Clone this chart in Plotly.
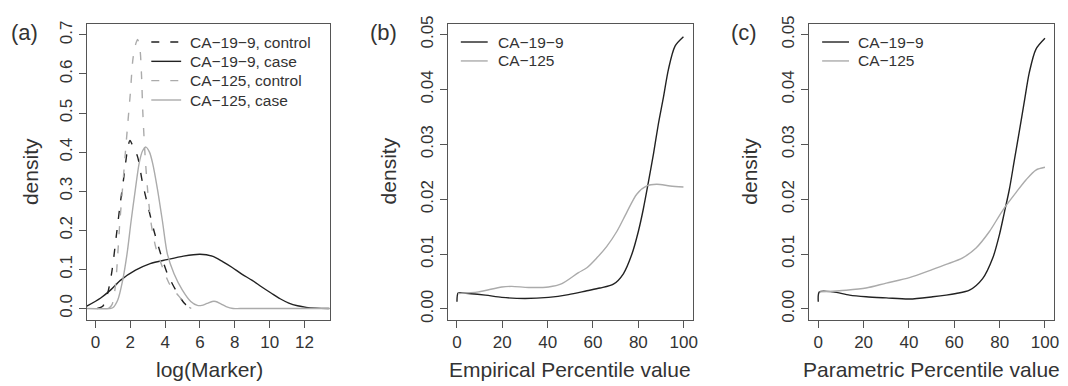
import plotly.graph_objects as go

W, H = 1068, 386

# ---------------- data: panel (a) ----------------
a_ca199_control_x = [0.1, 0.42, 0.7, 0.95, 1.18, 1.41, 1.66, 1.85, 1.98, 2.15, 2.42, 2.7, 3.05, 3.37, 3.75, 4.13, 4.61, 5.09, 5.4]
a_ca199_control_y = [0.0, 0.006, 0.039, 0.097, 0.18, 0.264, 0.347, 0.41, 0.43, 0.415, 0.388, 0.322, 0.255, 0.197, 0.139, 0.089, 0.047, 0.014, 0.002]

a_ca199_case_x = [-0.5, 0.3, 0.86, 1.43, 2.3, 3.14, 4.1, 5.05, 6.0, 6.7, 7.3, 7.85, 8.4, 9.0, 9.55, 10.1, 10.6, 11.1, 11.6, 12.1, 12.7, 13.4]
a_ca199_case_y = [0.006, 0.027, 0.047, 0.072, 0.098, 0.115, 0.125, 0.134, 0.139, 0.134, 0.12, 0.105, 0.088, 0.072, 0.055, 0.039, 0.025, 0.014, 0.007, 0.003, 0.001, 0.0]

a_ca125_control_x = [0.75, 0.95, 1.14, 1.28, 1.4, 1.55, 1.7, 1.85, 2.0, 2.15, 2.3, 2.42, 2.55, 2.64, 2.72, 2.85, 3.0, 3.18, 3.47, 3.85, 4.23, 4.5, 4.8, 5.18, 5.5]
a_ca125_control_y = [0.0, 0.01, 0.056, 0.139, 0.222, 0.305, 0.39, 0.471, 0.55, 0.638, 0.675, 0.688, 0.665, 0.6, 0.5, 0.39, 0.3, 0.222, 0.155, 0.105, 0.064, 0.047, 0.031, 0.01, 0.0]

a_ca125_case_x = [-0.5, 0.8, 0.99, 1.28, 1.56, 1.81, 2.04, 2.29, 2.51, 2.7, 2.9, 3.1, 3.28, 3.56, 3.85, 4.13, 4.51, 4.99, 5.47, 5.85, 6.1, 6.4, 6.7, 6.9, 7.2, 7.5, 7.9, 8.3, 13.5]
a_ca125_case_y = [0.0, 0.0, 0.002, 0.022, 0.072, 0.139, 0.222, 0.305, 0.372, 0.403, 0.413, 0.4, 0.372, 0.305, 0.222, 0.139, 0.089, 0.047, 0.018, 0.008, 0.008, 0.013, 0.018, 0.018, 0.012, 0.005, 0.0, 0.0, 0.0]

a_xticks = [0, 2, 4, 6, 8, 10, 12]
a_yticks = [0.0, 0.1, 0.2, 0.3, 0.4, 0.5, 0.6, 0.7]

# ---------------- data: panel (b) ----------------
b_ca199_x = [0, 0.5, 2.2, 12.5, 19.8, 30, 40.4, 49.2, 57.3, 63.1, 69.0, 73.4, 77.1, 80.0, 82.2, 84.4, 86.7, 88.8, 91.0, 93.3, 96.2, 99.9]
b_ca199_y = [0.0013, 0.0029, 0.0029, 0.0025, 0.0021, 0.0019, 0.0021, 0.0026, 0.0033, 0.0038, 0.0045, 0.0064, 0.0099, 0.0141, 0.0182, 0.023, 0.0283, 0.0336, 0.0384, 0.0437, 0.0479, 0.0496]

b_ca125_x = [0.5, 9.5, 19.8, 24.2, 31.6, 40.4, 46.3, 53.6, 57.3, 61.7, 66.1, 70.5, 74.9, 79.3, 83.7, 88.1, 94.0, 99.9]
b_ca125_y = [0.0028, 0.0031, 0.004, 0.0041, 0.0039, 0.004, 0.0046, 0.0066, 0.0075, 0.0093, 0.0114, 0.0141, 0.0176, 0.0209, 0.0224, 0.0227, 0.0224, 0.0222]

# ---------------- data: panel (c) ----------------
c_ca199_x = [0, 0.5, 6.5, 13.8, 21.1, 30, 40.2, 50.5, 56.4, 60.8, 66.7, 72.5, 77.0, 79.9, 82.1, 84.3, 86.5, 88.7, 90.9, 93.1, 96.0, 100]
c_ca199_y = [0.0013, 0.0031, 0.0031, 0.0025, 0.0022, 0.002, 0.0018, 0.0022, 0.0025, 0.0028, 0.0034, 0.0055, 0.0093, 0.0135, 0.0176, 0.0218, 0.0271, 0.0324, 0.0378, 0.0431, 0.0473, 0.0493]

c_ca125_x = [0.5, 12.3, 21.1, 30, 40.2, 50.5, 56.4, 63.7, 69.6, 75.5, 79.9, 82.8, 87.2, 91.6, 96.0, 100]
c_ca125_y = [0.0031, 0.0034, 0.0038, 0.0047, 0.0057, 0.0072, 0.0081, 0.0093, 0.0111, 0.0141, 0.017, 0.0188, 0.0212, 0.0235, 0.0253, 0.0258]

pct_xticks = [0, 20, 40, 60, 80, 100]
pct_yticks = [0.00, 0.01, 0.02, 0.03, 0.04, 0.05]

legend_a = ["CA\u221219\u22129, control", "CA\u221219\u22129, case", "CA\u2212125, control", "CA\u2212125, case"]
legend_bc = ["CA\u221219\u22129", "CA\u2212125"]

# ---------------- styling ----------------
DARK = '#222222'
GRAY = '#ababab'
AXC = '#555555'
TXT = '#333333'
FONT = 'Liberation Sans, Arial, Helvetica, sans-serif'
DASH = '8px,11px'
LW = 1.4

fig = go.Figure()


def add(x, y, color, dash, xa, ya, name):
    fig.add_trace(go.Scatter(
        x=x, y=y, mode='lines', name=name, showlegend=False, hoverinfo='skip',
        line=dict(color=color, width=LW, dash=dash, shape='spline', smoothing=0.8),
        xaxis=xa, yaxis=ya))


add(a_ca199_control_x, a_ca199_control_y, DARK, DASH, 'x', 'y', legend_a[0])
add(a_ca199_case_x, a_ca199_case_y, DARK, 'solid', 'x', 'y', legend_a[1])
add(a_ca125_control_x, a_ca125_control_y, GRAY, DASH, 'x', 'y', legend_a[2])
add(a_ca125_case_x, a_ca125_case_y, GRAY, 'solid', 'x', 'y', legend_a[3])

add(b_ca199_x, b_ca199_y, DARK, 'solid', 'x2', 'y2', legend_bc[0])
add(b_ca125_x, b_ca125_y, GRAY, 'solid', 'x2', 'y2', legend_bc[1])

add(c_ca199_x, c_ca199_y, DARK, 'solid', 'x3', 'y3', legend_bc[0])
add(c_ca125_x, c_ca125_y, GRAY, 'solid', 'x3', 'y3', legend_bc[1])

ydom = [1 - 321 / H, 1 - 16 / H]
tickfont = dict(family=FONT, size=17, color=TXT)
common = dict(showline=True, mirror=True, linecolor=AXC, linewidth=1,
              ticks='outside', ticklen=7, tickwidth=1, tickcolor=AXC,
              showgrid=False, zeroline=False, tickfont=tickfont, fixedrange=True)

fig.update_layout(
    width=W, height=H, margin=dict(l=0, r=0, t=0, b=0),
    paper_bgcolor='white', plot_bgcolor='white', showlegend=False,
    xaxis=dict(domain=[87 / W, 332 / W], range=[-0.51, 13.49], tickvals=a_xticks, anchor='y', **common),
    yaxis=dict(domain=ydom, range=[-0.029, 0.729], tickvals=a_yticks, tickformat='.1f', tickangle=-90, anchor='x', **common),
    xaxis2=dict(domain=[450 / W, 696 / W], range=[-4, 104], tickvals=pct_xticks, anchor='y2', **common),
    yaxis2=dict(domain=ydom, range=[-0.002, 0.052], tickvals=pct_yticks, tickformat='.2f', tickangle=-90, anchor='x2', **common),
    xaxis3=dict(domain=[813 / W, 1059 / W], range=[-4, 104], tickvals=pct_xticks, anchor='y3', **common),
    yaxis3=dict(domain=ydom, range=[-0.002, 0.052], tickvals=pct_yticks, tickformat='.2f', tickangle=-90, anchor='x3', **common),
)

ann = []


def text(x, y, s, size, angle=0, xanchor='center'):
    ann.append(dict(x=x / W, y=1 - y / H, xref='paper', yref='paper', text=s, showarrow=False,
                    textangle=angle, xanchor=xanchor, yanchor='middle',
                    font=dict(family=FONT, size=size, color=TXT)))


# panel labels
text(25, 25, '(a)', 22)
text(385, 25, '(b)', 22)
text(748, 25, '(c)', 22)
# axis titles
text(210, 372, 'log(Marker)', 21)
text(573, 372, 'Empirical Percentile value', 21)
text(936, 372, 'Parametric Percentile value', 21)
text(30, 168, 'density', 21, angle=-90)
text(390, 168, 'density', 21, angle=-90)
text(753, 168, 'density', 21, angle=-90)

shapes = []


def sample(x0, x1, y, color, dash):
    shapes.append(dict(type='line', xref='paper', yref='paper', x0=x0 / W, x1=x1 / W,
                       y0=1 - y / H, y1=1 - y / H, line=dict(color=color, width=LW, dash=dash)))


# legend (a)
leg_a_styles = [(DARK, DASH), (DARK, 'solid'), (GRAY, DASH), (GRAY, 'solid')]
for i, (lab, (col, dsh)) in enumerate(zip(legend_a, leg_a_styles)):
    yy = 35 + i * 19.9
    sample(152, 182, yy, col, dsh)
    text(189, yy, lab, 15.5, xanchor='left')

# legends (b), (c)
for (x0, x1, xt) in [(463, 490, 498), (826, 853, 860)]:
    for i, (lab, col) in enumerate(zip(legend_bc, [DARK, GRAY])):
        yy = 35 + i * 19.5
        sample(x0, x1, yy, col, 'solid')
        text(xt, yy, lab, 15.5, xanchor='left')

fig.update_layout(annotations=ann, shapes=shapes)
fig.write_html("out.html")
